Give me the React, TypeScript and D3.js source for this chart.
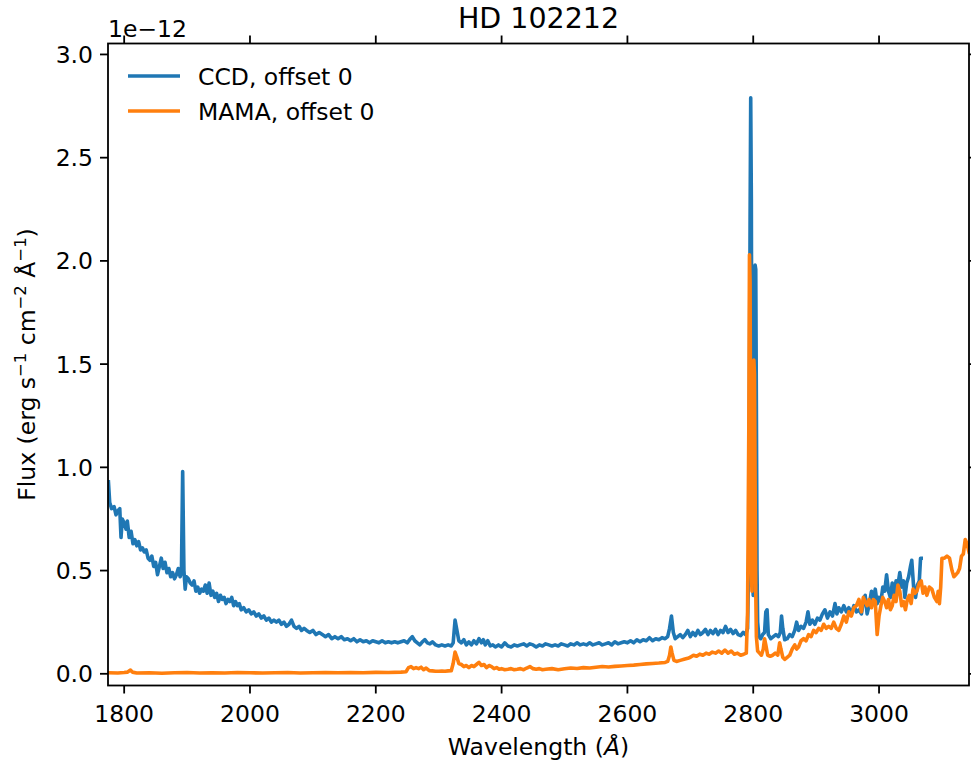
import React from "react";
import * as d3 from "d3";

const ccdWave = [1775,1777,1780,1784,1787,1790,1793,1795,1797,1800,1803,1805,1808,1811,1814,1817,1820,1823,1826,1829,1832,1835,1838,1841,1844,1847,1850,1853,1856,1859,1862,1865,1868,1871,1874,1877,1880,1883,1886,1889,1891,1893,1895,1897,1899,1902,1905,1908,1911,1914,1917,1920,1923,1926,1929,1932,1935,1938,1941,1944,1947,1950,1953,1956,1959,1962,1965,1968,1971,1974,1977,1980,1983,1986,1990,1994,1998,2002,2006,2010,2014,2018,2022,2026,2030,2034,2038,2042,2046,2050,2054,2058,2062,2066,2070,2074,2078,2082,2086,2090,2095,2100,2105,2110,2115,2120,2125,2130,2135,2140,2145,2150,2155,2160,2165,2170,2175,2180,2185,2190,2195,2200,2205,2210,2215,2220,2225,2230,2235,2240,2245,2250,2255,2258,2262,2266,2270,2274,2278,2282,2286,2290,2295,2300,2305,2310,2315,2320,2323,2326,2329,2332,2336,2340,2344,2348,2352,2356,2360,2364,2368,2371,2374,2378,2382,2386,2390,2395,2400,2405,2410,2415,2420,2425,2430,2435,2440,2445,2450,2455,2460,2465,2470,2475,2480,2485,2490,2495,2500,2505,2510,2515,2520,2525,2530,2535,2540,2545,2550,2555,2560,2565,2570,2575,2580,2585,2590,2595,2600,2605,2610,2615,2620,2625,2630,2635,2640,2645,2650,2655,2660,2664,2667,2670,2673,2676,2680,2684,2688,2692,2696,2700,2704,2708,2712,2716,2720,2724,2728,2732,2736,2740,2744,2748,2752,2756,2760,2764,2768,2772,2776,2780,2784,2788,2791,2793,2795,2796,2797,2798,2799,2800,2801,2802,2803,2804,2805,2806,2807,2809,2812,2815,2818,2820,2822,2824,2828,2832,2836,2840,2843,2845,2847,2850,2854,2858,2862,2866,2869,2872,2876,2880,2884,2887,2890,2894,2898,2902,2906,2910,2914,2918,2922,2926,2930,2933,2936,2940,2944,2948,2952,2956,2960,2964,2968,2972,2976,2978,2981,2984,2988,2991,2994,2997,3000,3003,3006,3009,3012,3015,3018,3021,3024,3027,3030,3033,3036,3039,3041,3044,3047,3050,3052,3055,3058,3061,3064,3066,3067];
const ccdFlux = [0.93,0.83,0.80,0.81,0.77,0.79,0.80,0.66,0.75,0.73,0.70,0.74,0.66,0.69,0.63,0.65,0.62,0.64,0.60,0.61,0.59,0.60,0.56,0.55,0.57,0.52,0.54,0.48,0.52,0.56,0.51,0.54,0.49,0.51,0.47,0.49,0.46,0.48,0.51,0.47,0.49,0.98,0.50,0.41,0.47,0.46,0.44,0.43,0.45,0.40,0.42,0.39,0.41,0.40,0.43,0.39,0.44,0.38,0.40,0.37,0.39,0.35,0.38,0.36,0.37,0.34,0.36,0.35,0.37,0.33,0.35,0.33,0.34,0.31,0.32,0.30,0.31,0.29,0.30,0.28,0.29,0.27,0.28,0.26,0.27,0.25,0.26,0.25,0.26,0.24,0.25,0.23,0.24,0.26,0.23,0.22,0.23,0.21,0.22,0.21,0.20,0.21,0.19,0.20,0.19,0.18,0.19,0.17,0.18,0.17,0.18,0.165,0.17,0.16,0.17,0.155,0.165,0.155,0.16,0.15,0.16,0.155,0.15,0.16,0.15,0.155,0.15,0.155,0.15,0.155,0.16,0.15,0.17,0.18,0.16,0.15,0.14,0.155,0.165,0.15,0.145,0.155,0.14,0.135,0.14,0.135,0.14,0.135,0.15,0.26,0.21,0.16,0.15,0.165,0.14,0.155,0.14,0.16,0.145,0.17,0.15,0.165,0.14,0.16,0.135,0.14,0.13,0.14,0.13,0.15,0.135,0.13,0.14,0.135,0.14,0.145,0.135,0.145,0.14,0.13,0.14,0.135,0.145,0.14,0.135,0.14,0.135,0.145,0.14,0.135,0.145,0.14,0.15,0.14,0.145,0.14,0.15,0.14,0.145,0.15,0.14,0.145,0.15,0.14,0.155,0.145,0.15,0.155,0.15,0.16,0.15,0.165,0.155,0.165,0.16,0.175,0.16,0.17,0.165,0.175,0.17,0.18,0.22,0.28,0.20,0.17,0.18,0.19,0.175,0.19,0.21,0.18,0.20,0.185,0.21,0.19,0.20,0.215,0.19,0.21,0.195,0.215,0.19,0.21,0.20,0.23,0.20,0.215,0.195,0.21,0.19,0.185,0.20,0.19,0.22,0.6,2.2,2.79,2.3,1.0,0.45,0.38,0.55,1.2,1.98,1.96,1.3,0.5,0.25,0.18,0.17,0.19,0.20,0.30,0.31,0.19,0.17,0.18,0.19,0.18,0.20,0.28,0.22,0.165,0.17,0.19,0.18,0.21,0.25,0.21,0.23,0.22,0.25,0.30,0.24,0.26,0.24,0.27,0.26,0.29,0.31,0.27,0.30,0.28,0.34,0.29,0.32,0.30,0.33,0.30,0.32,0.29,0.33,0.30,0.31,0.29,0.37,0.38,0.29,0.33,0.40,0.36,0.41,0.34,0.37,0.35,0.42,0.40,0.48,0.40,0.37,0.44,0.38,0.45,0.43,0.49,0.42,0.45,0.37,0.44,0.47,0.52,0.55,0.42,0.37,0.43,0.45,0.56,0.56];

const mamaWave = [1775,1790,1800,1805,1810,1813,1820,1840,1860,1880,1900,1920,1940,1960,1980,2000,2020,2040,2060,2080,2100,2120,2140,2160,2180,2200,2220,2240,2248,2252,2256,2260,2264,2268,2272,2276,2280,2285,2290,2295,2300,2305,2310,2315,2320,2323,2326,2329,2332,2336,2340,2344,2348,2352,2356,2360,2364,2368,2372,2376,2380,2384,2388,2392,2396,2400,2405,2410,2415,2420,2425,2430,2435,2440,2445,2450,2455,2460,2465,2470,2480,2490,2500,2510,2520,2530,2540,2550,2560,2570,2580,2590,2600,2610,2620,2630,2640,2650,2660,2664,2667,2669,2671,2674,2678,2684,2690,2696,2700,2705,2710,2715,2720,2725,2730,2735,2740,2745,2750,2755,2760,2765,2770,2775,2780,2785,2789,2791,2793,2794,2795,2796,2797,2798,2799,2800,2801,2802,2803,2804,2805,2807,2810,2813,2816,2818,2820,2823,2827,2831,2835,2839,2842,2844,2847,2850,2854,2858,2862,2866,2869,2872,2876,2880,2884,2888,2892,2896,2900,2904,2908,2912,2916,2920,2924,2928,2932,2936,2940,2944,2948,2952,2956,2960,2964,2968,2972,2975,2978,2981,2984,2988,2991,2994,2997,3000,3003,3006,3009,3012,3015,3018,3021,3024,3027,3030,3033,3036,3039,3042,3045,3048,3051,3054,3057,3060,3064,3067,3070,3073,3076,3080,3084,3088,3092,3094,3096,3098,3100,3104,3108,3112,3116,3119,3122,3125,3128,3131,3134,3137,3140,3143];
const mamaFlux = [0.005,0.004,0.006,0.008,0.018,0.008,0.004,0.005,0.003,0.005,0.006,0.004,0.005,0.004,0.006,0.005,0.004,0.005,0.006,0.004,0.005,0.006,0.005,0.006,0.005,0.007,0.006,0.008,0.01,0.03,0.035,0.025,0.03,0.025,0.032,0.02,0.028,0.015,0.014,0.012,0.012,0.013,0.012,0.014,0.015,0.05,0.105,0.08,0.05,0.045,0.035,0.04,0.03,0.04,0.035,0.045,0.055,0.04,0.045,0.03,0.04,0.035,0.025,0.03,0.022,0.025,0.02,0.022,0.025,0.02,0.022,0.025,0.02,0.028,0.035,0.025,0.022,0.025,0.02,0.022,0.025,0.02,0.024,0.028,0.026,0.03,0.028,0.032,0.035,0.033,0.036,0.038,0.04,0.042,0.045,0.048,0.05,0.052,0.055,0.06,0.09,0.13,0.10,0.065,0.06,0.065,0.07,0.075,0.08,0.09,0.085,0.095,0.09,0.10,0.095,0.105,0.10,0.11,0.10,0.115,0.10,0.11,0.095,0.10,0.09,0.095,0.10,0.3,1.2,2.03,1.9,0.9,0.5,0.4,0.6,1.1,1.52,1.45,0.9,0.4,0.18,0.11,0.10,0.09,0.12,0.17,0.14,0.09,0.085,0.09,0.10,0.09,0.15,0.12,0.08,0.07,0.08,0.09,0.12,0.14,0.12,0.13,0.16,0.17,0.16,0.19,0.18,0.21,0.20,0.22,0.21,0.24,0.22,0.23,0.22,0.25,0.22,0.21,0.24,0.28,0.25,0.30,0.28,0.32,0.33,0.36,0.30,0.37,0.35,0.33,0.36,0.32,0.36,0.35,0.19,0.28,0.33,0.37,0.35,0.32,0.36,0.31,0.33,0.38,0.35,0.43,0.40,0.33,0.35,0.31,0.36,0.38,0.34,0.41,0.39,0.40,0.44,0.45,0.39,0.42,0.38,0.42,0.41,0.37,0.35,0.40,0.34,0.42,0.56,0.56,0.57,0.56,0.50,0.47,0.48,0.49,0.51,0.57,0.58,0.65,0.63,0.59];

const xTicks = [1800, 2000, 2200, 2400, 2600, 2800, 3000];
const yTicks = [0.0, 0.5, 1.0, 1.5, 2.0, 2.5, 3.0];
const seriesNames = ["CCD, offset 0", "MAMA, offset 0"];
const seriesColors = ["#1f77b4", "#ff7f0e"];

const W = 971, H = 764;
const L = 108, R = 969, T = 43.5, B = 685.5;
const FONT = "'DejaVu Sans', sans-serif";

export default function App() {
  const x = d3.scaleLinear().domain([1774.3, 3143]).range([L, R]);
  const y = d3.scaleLinear().domain([-0.0567, 3.053]).range([B, T]);
  const line = d3.line<[number, number]>().x(d => x(d[0])).y(d => y(d[1]));
  const ccd = ccdWave.map((w, i) => [w, ccdFlux[i]] as [number, number]);
  const mama = mamaWave.map((w, i) => [w, mamaFlux[i]] as [number, number]);
  const tickLen = 8, sw = 1.8, fs = 23.5, lw = 3.6;
  const sup = fs * 0.7;

  return (
    <svg width={W} height={H} style={{ position: "absolute", left: 0, top: 0, background: "#fff" }} fontFamily={FONT}>
      <rect x={0} y={0} width={W} height={H} fill="#fff" />
      <defs>
        <clipPath id="plotclip">
          <rect x={L} y={T} width={R - L} height={B - T} />
        </clipPath>
      </defs>
      <g clipPath="url(#plotclip)" fill="none" strokeWidth={lw} strokeLinejoin="round" strokeLinecap="square">
        <path d={line(ccd) || ""} stroke={seriesColors[0]} />
        <path d={line(mama) || ""} stroke={seriesColors[1]} />
      </g>
      <rect x={L} y={T} width={R - L} height={B - T} fill="none" stroke="#000" strokeWidth={sw} />
      {xTicks.map(t => (
        <g key={"x" + t}>
          <line x1={x(t)} x2={x(t)} y1={B} y2={B + tickLen} stroke="#000" strokeWidth={sw} />
          <line x1={x(t)} x2={x(t)} y1={T} y2={T - tickLen} stroke="#000" strokeWidth={sw} />
          <text x={x(t)} y={B + 36.5} textAnchor="middle" fontSize={fs}>{t}</text>
        </g>
      ))}
      {yTicks.map(t => (
        <g key={"y" + t}>
          <line x1={L} x2={L - tickLen} y1={y(t)} y2={y(t)} stroke="#000" strokeWidth={sw} />
          <line x1={R} x2={R + tickLen} y1={y(t)} y2={y(t)} stroke="#000" strokeWidth={sw} />
          <text x={L - 15} y={y(t) + 8.5} textAnchor="end" fontSize={fs}>{t.toFixed(1)}</text>
        </g>
      ))}
      <text x={L} y={37} fontSize={fs}>1e−12</text>
      <text x={(L + R) / 2} y={28} textAnchor="middle" fontSize={28.5}>HD 102212</text>
      <text x={(L + R) / 2} y={755} textAnchor="middle" fontSize={fs}>
        Wavelength (<tspan fontStyle="italic">Å</tspan>)
      </text>
      <text transform={`translate(35, ${(T + B) / 2}) rotate(-90)`} textAnchor="middle" fontSize={fs}>
        Flux (erg s<tspan fontSize={sup} dy={-9.5}>−1</tspan>
        <tspan dy={9.5}> cm</tspan><tspan fontSize={sup} dy={-9.5}>−2</tspan>
        <tspan dy={9.5}> Å</tspan><tspan fontSize={sup} dy={-9.5}>−1</tspan>
        <tspan dy={9.5}>)</tspan>
      </text>
      {seriesNames.map((n, i) => (
        <g key={n}>
          <line x1={128} x2={180} y1={76 + i * 35} y2={76 + i * 35} stroke={seriesColors[i]} strokeWidth={lw} />
          <text x={198} y={76 + i * 35 + 8.5} fontSize={fs}>{n}</text>
        </g>
      ))}
    </svg>
  );
}
